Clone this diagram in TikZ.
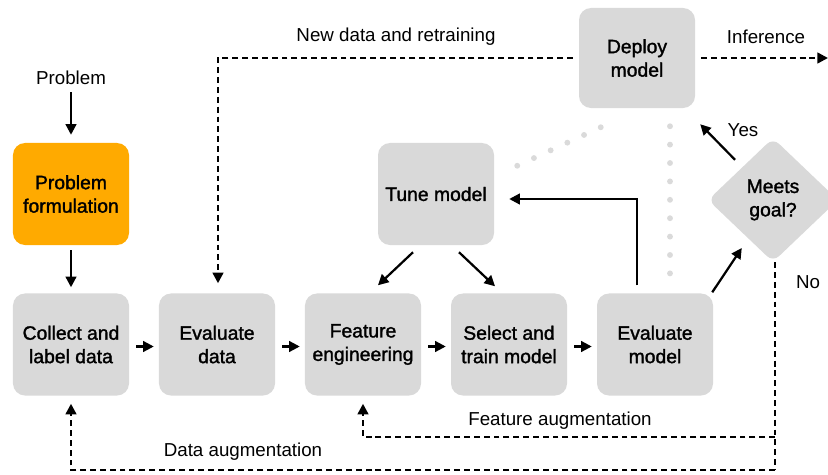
\documentclass[tikz,border=0pt]{standalone}
\usepackage{fontspec}
\setmainfont{Liberation Sans}
\newfontfamily\medfont[FakeBold=1.5]{Liberation Sans}
\usetikzlibrary{arrows.meta,shapes.geometric,calc}
\definecolor{boxgray}{HTML}{D9D9D9}
\definecolor{orangebox}{HTML}{FFAA00}
\definecolor{dotgray}{HTML}{DADADA}
\begin{document}
\begin{tikzpicture}[x=0.03cm,y=-0.03cm,
  box/.style={fill=boxgray, rounded corners=0.36cm, minimum width=3.48cm, minimum height=3.06cm,
    align=center, inner sep=0pt, font=\fontsize{16.5}{20}\selectfont\medfont},
  lbl/.style={inner sep=0pt, font=\fontsize{16}{19}\selectfont},
  arr/.style={line width=1.9pt, -{Triangle[length=9pt,width=9pt]}},
  dsh/.style={line width=2pt, dash pattern=on 5pt off 3.4pt, -{Triangle[length=9pt,width=9pt]}},
  dsnoarr/.style={line width=2pt, dash pattern=on 5pt off 3.4pt},
  dotline/.style={draw=dotgray, line width=5pt, line cap=round, dash pattern=on 0pt off 15.7pt}]
\fill[white] (0,0) rectangle (828,475);
\useasboundingbox (0,0) rectangle (828,475);

% nodes
\node[lbl] (problem) at (71,78) {Problem};
\node[box, fill=orangebox] (form) at (71,194) {Problem\\formulation};
\node[box] (collect) at (71,344.5) {Collect and\\label data};
\node[box] (evald) at (217,344.5) {Evaluate\\data};
\node[box] (feat) at (363,344.5) {Feature\\engineering};
\node[box] (sel) at (509,344.5) {Select and\\train model};
\node[box] (evalm) at (655,344.5) {Evaluate\\model};
\node[box] (tune) at (436,194) {Tune model};
\node[box, minimum height=3.0cm] (deploy) at (637,58) {Deploy\\model};
\node[shape=diamond, fill=boxgray, rounded corners=0.25cm, minimum width=3.9cm, minimum height=3.72cm,
  inner sep=0pt, align=center, font=\fontsize{16.5}{20}\selectfont\medfont] (goal) at (773,200) {Meets\\goal?};

\node[lbl] (newdata) at (396,37) {New data and retraining};
\node[lbl] (infer) at (766,37) {Inference};
\node[lbl] (yes) at (743,130) {Yes};
\node[lbl] (no) at (808,282) {No};
\node[lbl] (feataug) at (560,421) {Feature augmentation};
\node[lbl] (dataaug) at (243,452) {Data augmentation};

\coordinate (inferend) at (828,58);
\coordinate (nocorner) at (775,470);
\coordinate (featcorner) at (775,437);

% dotted grey links
\draw[dotline] ($(tune.north east)+(23,23)$) -- ($(deploy.south west)+(22,19)$);
\draw[dotline] ($(deploy.south)+(33,18)$) -- ($(evalm.north)+(15,-19)$);

% solid arrows
\draw[arr] ($(problem.south)+(0,7)$) -- ($(form.north)+(0,-8)$);
\draw[arr] ($(form.south)+(0,5)$) -- ($(collect.north)+(0,-6)$);
\draw[arr] ($(collect.east)+(7,2)$) -- ($(evald.west)+(-5,2)$);
\draw[arr] ($(evald.east)+(7,2)$) -- ($(feat.west)+(-5,2)$);
\draw[arr] ($(feat.east)+(7,2)$) -- ($(sel.west)+(-5,2)$);
\draw[arr] ($(sel.east)+(7,2)$) -- ($(evalm.west)+(-5,2)$);
\draw[arr] ($(tune.south)+(-23,7)$) -- ($(feat.north)+(15,-8)$);
\draw[arr] ($(tune.south)+(23,7)$) -- ($(sel.north)+(-14,-7)$);
\draw[arr] ($(evalm.north)+(-18,-8)$) |- ($(tune.east)+(15,5)$);
\draw[arr] ($(evalm.north east)+(-1,-1)$) -- ($(goal.west)+(34,48)$);
\draw[arr] ($(goal.north)+(-38,22)$) -- ($(deploy.south east)+(5,16)$);

% dashed arrows
\draw[dsh] ($(deploy.west)+(-6,0)$) -| ($(evald.north)+(1,-10)$);
\draw[dsh] ($(deploy.east)+(6,0)$) -- (inferend);
\draw[dsnoarr] ($(goal.south)+(2,0)$) -- (nocorner);
\draw[dsh] (nocorner) -| ($(collect.south)+(0,8)$);
\draw[dsh] (featcorner) -| ($(feat.south)+(0,8)$);
\end{tikzpicture}
\end{document}
